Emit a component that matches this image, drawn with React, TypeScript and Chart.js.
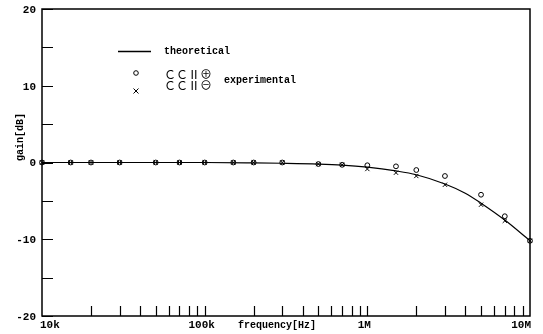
import React, { useEffect, useRef } from "react";
import { Chart, registerables } from "chart.js";

Chart.register(...registerables);

// ---- data ----
const theoryFreq = [1e4, 1e5, 2e5, 3e5, 5e5, 7e5, 1e6, 1.5e6, 2e6, 3e6, 4e6, 5e6, 7e6, 1e7];
const theoryGain = [0, 0, -0.05, -0.1, -0.2, -0.33, -0.6, -1.1, -1.6, -2.8, -4.0, -5.3, -7.5, -10.2];

const expFreq = [1e4, 1.5e4, 2e4, 3e4, 5e4, 7e4, 1e5, 1.5e5, 2e5, 3e5, 5e5, 7e5, 1e6, 1.5e6, 2e6, 3e6, 5e6, 7e6, 1e7];
const gainPlus = [0, 0, 0, 0, 0, 0, 0, 0, 0, 0, -0.2, -0.3, -0.36, -0.5, -0.98, -1.76, -4.2, -7.0, -10.2];
const gainMinus = [0, 0, 0, 0, 0, 0, 0, 0, 0, 0, -0.2, -0.3, -0.85, -1.33, -1.76, -2.9, -5.5, -7.6, -10.2];

const xTickValues = [
  2e4, 3e4, 4e4, 5e4, 6e4, 7e4, 8e4, 9e4, 1e5,
  2e5, 3e5, 4e5, 5e5, 6e5, 7e5, 8e5, 9e5, 1e6,
  2e6, 3e6, 4e6, 5e6, 6e6, 7e6, 8e6, 9e6,
];
const xLabelValues = [1e4, 1e5, 1e6, 1e7];
const xLabelTexts = ["10k", "100k", "1M", "10M"];
const yMajorValues = [20, 10, 0, -10, -20];
const yLabelTexts = ["20", "10", "0", "-10", "-20"];
const yMinorValues = [15, 5, -5, -15];

const FONT = "'Liberation Mono', 'DejaVu Sans Mono', monospace";

const axesPlugin = {
  id: "customAxes",
  afterDraw(chart: any) {
    const ctx = chart.ctx as CanvasRenderingContext2D;
    const area = chart.chartArea;
    const xs = chart.scales.x;
    const ys = chart.scales.y;
    ctx.save();
    ctx.strokeStyle = "#000";
    ctx.fillStyle = "#000";
    // frame
    ctx.lineWidth = 1.5;
    ctx.strokeRect(area.left, area.top, area.right - area.left, area.bottom - area.top);

    // x ticks (inward)
    ctx.lineWidth = 1.2;
    ctx.beginPath();
    xTickValues.forEach((v) => {
      const px = Math.round(xs.getPixelForValue(v)) + 0.5;
      ctx.moveTo(px, area.bottom);
      ctx.lineTo(px, area.bottom - 10);
    });
    // y ticks (inward)
    [...yMajorValues, ...yMinorValues].forEach((v) => {
      const py = Math.round(ys.getPixelForValue(v)) + 0.5;
      ctx.moveTo(area.left, py);
      ctx.lineTo(area.left + 11, py);
    });
    ctx.stroke();

    // y labels
    ctx.font = `bold 11px ${FONT}`;
    ctx.textAlign = "right";
    ctx.textBaseline = "middle";
    yMajorValues.forEach((v, i) => {
      ctx.fillText(yLabelTexts[i], area.left - 6, ys.getPixelForValue(v) + 1);
    });

    // x labels
    ctx.textBaseline = "middle";
    xLabelValues.forEach((v, i) => {
      const px = xs.getPixelForValue(v);
      if (i === 0) {
        ctx.textAlign = "left";
        ctx.fillText(xLabelTexts[i], px - 2, area.bottom + 9);
      } else if (i === xLabelValues.length - 1) {
        ctx.textAlign = "right";
        ctx.fillText(xLabelTexts[i], px + 1, area.bottom + 9);
      } else {
        ctx.textAlign = "center";
        ctx.fillText(xLabelTexts[i], px - 3, area.bottom + 9);
      }
    });

    // axis titles
    ctx.font = `bold 10px ${FONT}`;
    ctx.textAlign = "center";
    ctx.fillText("frequency[Hz]", 277, area.bottom + 9);
    ctx.save();
    ctx.translate(20, 137);
    ctx.rotate(-Math.PI / 2);
    ctx.fillText("gain[dB]", 0, 0);
    ctx.restore();

    // legend
    ctx.lineWidth = 1.5;
    ctx.beginPath();
    ctx.moveTo(118, 51.5);
    ctx.lineTo(151, 51.5);
    ctx.stroke();
    ctx.font = `bold 10px ${FONT}`;
    ctx.textAlign = "left";
    ctx.fillText("theoretical", 164, 51);
    ctx.fillText("experimental", 224, 80);

    ctx.lineWidth = 1;
    ctx.beginPath();
    ctx.arc(136, 73, 2.3, 0, Math.PI * 2);
    ctx.stroke();
    ctx.beginPath();
    ctx.moveTo(133.5, 88.5);
    ctx.lineTo(138.5, 93.5);
    ctx.moveTo(138.5, 88.5);
    ctx.lineTo(133.5, 93.5);
    ctx.stroke();

    ctx.font = `12px 'Noto Sans CJK JP', 'DejaVu Sans', sans-serif`;
    ctx.fillText("ＣＣⅡ⊕", 164, 74);
    ctx.fillText("ＣＣⅡ⊖", 164, 85);
    ctx.restore();
  },
};

export default function App() {
  const ref = useRef<HTMLCanvasElement | null>(null);

  useEffect(() => {
    document.body.style.margin = "0";
    const canvas = ref.current;
    if (!canvas) return;
    const chart = new Chart(canvas, {
      type: "line",
      data: {
        datasets: [
          {
            label: "theoretical",
            data: theoryFreq.map((f, i) => ({ x: f, y: theoryGain[i] })),
            borderColor: "#000",
            borderWidth: 1.2,
            pointRadius: 0,
            cubicInterpolationMode: "monotone",
            fill: false,
            clip: false as any,
          },
          {
            label: "CCII+",
            data: expFreq.map((f, i) => ({ x: f, y: gainPlus[i] })),
            showLine: false,
            pointStyle: "circle",
            pointRadius: 2.4,
            pointBorderWidth: 1,
            pointBorderColor: "#000",
            pointBackgroundColor: "rgba(255,255,255,0)",
            clip: false as any,
          },
          {
            label: "CCII-",
            data: expFreq.map((f, i) => ({ x: f, y: gainMinus[i] })),
            showLine: false,
            pointStyle: "crossRot",
            pointRadius: 3,
            pointBorderWidth: 1,
            pointBorderColor: "#000",
            clip: false as any,
          },
        ],
      },
      options: {
        animation: false,
        responsive: false,
        layout: { padding: { left: 42, top: 9, right: 13, bottom: 18 } },
        plugins: { legend: { display: false }, tooltip: { enabled: false } },
        scales: {
          x: { type: "logarithmic", min: 1e4, max: 1e7, display: false },
          y: { type: "linear", min: -20, max: 20, display: false },
        },
      },
      plugins: [axesPlugin],
    });
    return () => chart.destroy();
  }, []);

  return (
    <div style={{ position: "fixed", left: 0, top: 0, width: 543, height: 334, background: "#fff" }}>
      <canvas ref={ref} width={543} height={334} style={{ display: "block" }} />
    </div>
  );
}
